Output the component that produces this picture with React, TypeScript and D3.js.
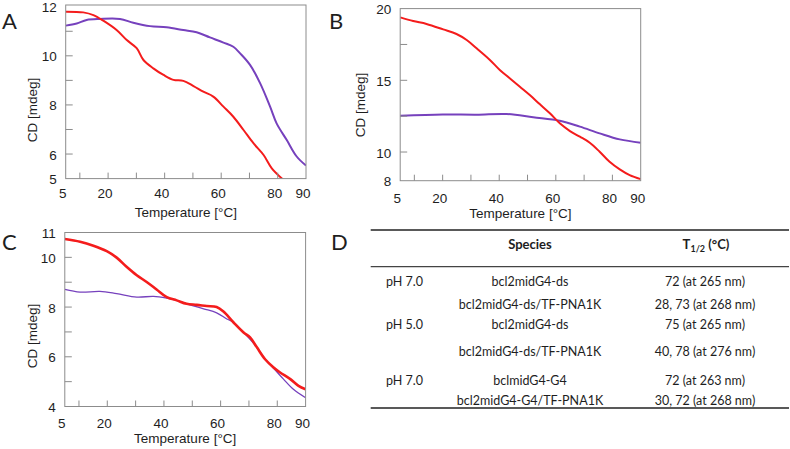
import React from "react";
import * as d3 from "d3";

// ---------- data ----------
const tA_red = [5, 11.2, 14.8, 18.3, 23, 26.6, 30.1, 32.5, 36, 39.6, 43.1, 46.6, 50.2, 53.7, 57.2, 60.8, 64.3, 67.9, 71.4, 75, 77.9, 82];
const cdA_red = [11.8, 11.77, 11.66, 11.43, 11.05, 10.64, 10.31, 9.83, 9.49, 9.22, 9.02, 8.98, 8.77, 8.54, 8.34, 7.93, 7.52, 6.98, 6.44, 5.96, 5.42, 4.95];
const tA_purple = [5, 8.9, 12.4, 17.1, 24.2, 28.9, 34.8, 40.7, 46.6, 51.3, 56, 60.8, 64.3, 66.7, 70.2, 73.8, 77.3, 79.6, 83.2, 86.7, 90];
const cdA_purple = [11.23, 11.32, 11.46, 11.5, 11.5, 11.35, 11.21, 11.16, 11.05, 10.96, 10.75, 10.54, 10.37, 10.1, 9.63, 8.88, 7.93, 7.25, 6.57, 5.9, 5.53];

const tB_red = [5, 9.6, 14.3, 20.2, 24.9, 28.5, 32, 36.7, 40.2, 43.8, 47.3, 50.8, 54.3, 57.9, 61.4, 65, 68.5, 72, 75.5, 79, 82.6, 86.1, 90];
const cdB_red = [19.39, 19.13, 18.93, 18.55, 18.23, 17.81, 17.23, 16.42, 15.72, 15.13, 14.55, 13.97, 13.34, 12.7, 12.0, 11.46, 11.07, 10.65, 10.02, 9.32, 8.79, 8.39, 8.11];
const tB_purple = [5, 20, 32, 42.6, 52, 61.4, 68.5, 75.5, 82.6, 90];
const cdB_purple = [12.53, 12.62, 12.6, 12.65, 12.42, 12.18, 11.77, 11.3, 10.88, 10.65];

const tC_red = [5, 10.4, 15.1, 19.8, 23.3, 26.8, 30.4, 33.9, 37.4, 41, 44.5, 48, 51.6, 55.1, 58.6, 61, 64.5, 68.1, 70.4, 72.8, 75.7, 78.7, 81, 84.6, 87.5, 90];
const cdC_red = [10.74, 10.63, 10.47, 10.25, 9.99, 9.62, 9.28, 9.01, 8.71, 8.4, 8.27, 8.13, 8.09, 8.04, 8.0, 7.82, 7.39, 6.98, 6.78, 6.38, 5.9, 5.57, 5.37, 5.1, 4.83, 4.69];
const tC_purple = [5, 10.4, 17.4, 23.3, 30.4, 36.3, 41, 44.5, 49.2, 54, 58.6, 62.2, 64.5, 68.1, 72.8, 75.7, 78.7, 82.2, 85.7, 90];
const cdC_purple = [8.71, 8.6, 8.63, 8.54, 8.4, 8.43, 8.36, 8.27, 8.09, 7.93, 7.77, 7.52, 7.39, 6.98, 6.38, 5.9, 5.54, 5.1, 4.69, 4.35];

const xTickLabels = [5, 20, 40, 60, 80, 90];
const xTickMarks = [10, 20, 30, 40, 50, 60, 70, 80];
const yLabelsA = [12, 10, 8, 6, 5];
const yMarksA = [11, 10, 9, 8, 7, 6];
const yLabelsB = [20, 15, 10, 8];
const yMarksB = [17.5, 15, 12.5, 10];
const yLabelsC = [11, 10, 8, 6, 4];
const yMarksC = [10, 9, 8, 7, 6, 5];

const xTitle = "Temperature [°C]";
const yTitle = "CD [mdeg]";

const tableHeader = ["Species", "T", "1/2", "(°C)"];
const tableCond = ["pH 7.0", "", "pH 5.0", "", "pH 7.0", ""];
const tableSpecies = ["bcl2midG4-ds", "bcl2midG4-ds/TF-PNA1K", "bcl2midG4-ds", "bcl2midG4-ds/TF-PNA1K", "bclmidG4-G4", "bcl2midG4-G4/TF-PNA1K"];
const tableT = ["72 (at 265 nm)", "28, 73 (at 268 nm)", "75 (at 265 nm)", "40, 78 (at 276 nm)", "72 (at 263 nm)", "30, 72 (at 268 nm)"];

// ---------- styles ----------
const FONT = "'Liberation Sans', Arial, sans-serif";
const TFONT = "Lato, 'Open Sans', sans-serif";
const RED = "#f41c1c";
const PURPLE = "#7641bd";
const FRAME = "#8c8c8c";
const TEXT = "#1e1e1e";

type PanelProps = {
  id: string;
  x0: number; x1: number; y0: number; y1: number;
  yDomain: [number, number];
  yLabels: number[]; yMarks: number[];
  series: { t: number[]; v: number[]; color: string; width: number }[];
  yTitleX: number; yTitleY: number;
  xLabelDy: number; xTitleY: number;
};

function Panel(p: PanelProps) {
  const x = d3.scaleLinear().domain([5, 90]).range([p.x0, p.x1]);
  const y = d3.scaleLinear().domain(p.yDomain).range([p.y0, p.y1]);
  const line = d3.line<[number, number]>()
    .x((d) => x(d[0]))
    .y((d) => y(d[1]))
    .curve(d3.curveCatmullRom.alpha(0.5));
  const clipId = "clip" + p.id;
  return (
    <g>
      <defs>
        <clipPath id={clipId}>
          <rect x={p.x0} y={p.y1} width={p.x1 - p.x0} height={p.y0 - p.y1} />
        </clipPath>
      </defs>
      <g clipPath={`url(#${clipId})`}>
        {p.series.map((s, i) => (
          <path
            key={i}
            d={line(s.t.map((t, j) => [t, s.v[j]] as [number, number])) || ""}
            fill="none"
            stroke={s.color}
            strokeWidth={s.width}
            strokeLinejoin="round"
          />
        ))}
      </g>
      <rect x={p.x0} y={p.y1} width={p.x1 - p.x0} height={p.y0 - p.y1} fill="none" stroke={FRAME} strokeWidth={1} />
      {xTickMarks.map((t) => (
        <line key={"xm" + t} x1={x(t)} x2={x(t)} y1={p.y0} y2={p.y0 - 6} stroke={FRAME} strokeWidth={1} />
      ))}
      {p.yMarks.map((v) => (
        <line key={"ym" + v} x1={p.x0} x2={p.x0 + 7} y1={y(v)} y2={y(v)} stroke={FRAME} strokeWidth={1} />
      ))}
      {xTickLabels.map((t) => (
        <text key={"xl" + t} x={x(t) - 3} y={p.y0 + p.xLabelDy} textAnchor="middle" fontFamily={FONT} fontSize={13.5} fill={TEXT}>
          {t}
        </text>
      ))}
      {p.yLabels.map((v) => (
        <text key={"yl" + v} x={p.x0 - 9} y={y(v) + 5.5} textAnchor="end" fontFamily={FONT} fontSize={13.5} fill={TEXT}>
          {v}
        </text>
      ))}
      <text x={(p.x0 + p.x1) / 2} y={p.xTitleY} textAnchor="middle" fontFamily={FONT} fontSize={13.5} fill={TEXT}>
        {xTitle}
      </text>
      <text
        transform={`translate(${p.yTitleX},${p.yTitleY}) rotate(-90)`}
        textAnchor="middle"
        fontFamily={FONT}
        fontSize={13.5}
        fill={TEXT}
      >
        {yTitle}
      </text>
    </g>
  );
}

export default function App() {
  const rowY = [285.5, 309, 329, 356, 384.5, 405];
  return (
    <svg width={790} height={449} style={{ position: "absolute", left: 0, top: 0, background: "#fff" }}>
      <rect width={790} height={449} fill="#fff" />
      <Panel
        id="A" x0={65.7} x1={306} y0={178.6} y1={5} yDomain={[5, 12.07]}
        yLabels={yLabelsA} yMarks={yMarksA}
        series={[
          { t: tA_purple, v: cdA_purple, color: PURPLE, width: 2 },
          { t: tA_red, v: cdA_red, color: RED, width: 2 },
        ]}
        yTitleX={36.5} yTitleY={110} xLabelDy={19.7} xTitleY={217}
      />
      <Panel
        id="B" x0={400.2} x1={640.7} y0={180.7} y1={8.6} yDomain={[8, 20]}
        yLabels={yLabelsB} yMarks={yMarksB}
        series={[
          { t: tB_purple, v: cdB_purple, color: PURPLE, width: 2 },
          { t: tB_red, v: cdB_red, color: RED, width: 2 },
        ]}
        yTitleX={365} yTitleY={105} xLabelDy={21.8} xTitleY={217.5}
      />
      <Panel
        id="C" x0={64.8} x1={305.6} y0={406.5} y1={232.5} yDomain={[4, 11]}
        yLabels={yLabelsC} yMarks={yMarksC}
        series={[
          { t: tC_purple, v: cdC_purple, color: PURPLE, width: 1.3 },
          { t: tC_red, v: cdC_red, color: RED, width: 2.6 },
        ]}
        yTitleX={37} yTitleY={336} xLabelDy={21} xTitleY={442.5}
      />

      {/* panel letters */}
      <text x={2} y={29} fontFamily={TFONT} fontSize={22} fill={TEXT}>A</text>
      <text x={329} y={29} fontFamily={TFONT} fontSize={22} fill={TEXT}>B</text>
      <text x={2} y={250} fontFamily={TFONT} fontSize={22} fill={TEXT}>C</text>
      <text x={331} y={250} fontFamily={TFONT} fontSize={22} fill={TEXT}>D</text>

      {/* table D */}
      <line x1={370.7} x2={789} y1={230} y2={230} stroke="#222" strokeWidth={1.5} />
      <line x1={370.7} x2={789} y1={266.7} y2={266.7} stroke="#444" strokeWidth={1.2} />
      <line x1={370.7} x2={789} y1={408} y2={408} stroke="#222" strokeWidth={1.5} />
      <text x={530} y={249} textAnchor="middle" fontFamily={TFONT} fontWeight="bold" fontSize={13} fill={TEXT}>
        {tableHeader[0]}
      </text>
      <text x={706} y={249} textAnchor="middle" fontFamily={TFONT} fontWeight="bold" fontSize={13} fill={TEXT}>
        {tableHeader[1]}
        <tspan fontSize={9} dy={3}>{tableHeader[2]}</tspan>
        <tspan dy={-3}>{" " + tableHeader[3]}</tspan>
      </text>
      {rowY.map((yy, i) => (
        <g key={i}>
          {tableCond[i] && (
            <text x={386} y={yy} fontFamily={TFONT} fontSize={12.5} fill={TEXT}>{tableCond[i]}</text>
          )}
          <text x={530} y={yy} textAnchor="middle" fontFamily={TFONT} fontSize={12.5} fill={TEXT}>{tableSpecies[i]}</text>
          <text x={705} y={yy} textAnchor="middle" fontFamily={TFONT} fontSize={12.5} fill={TEXT}>{tableT[i]}</text>
        </g>
      ))}
    </svg>
  );
}
